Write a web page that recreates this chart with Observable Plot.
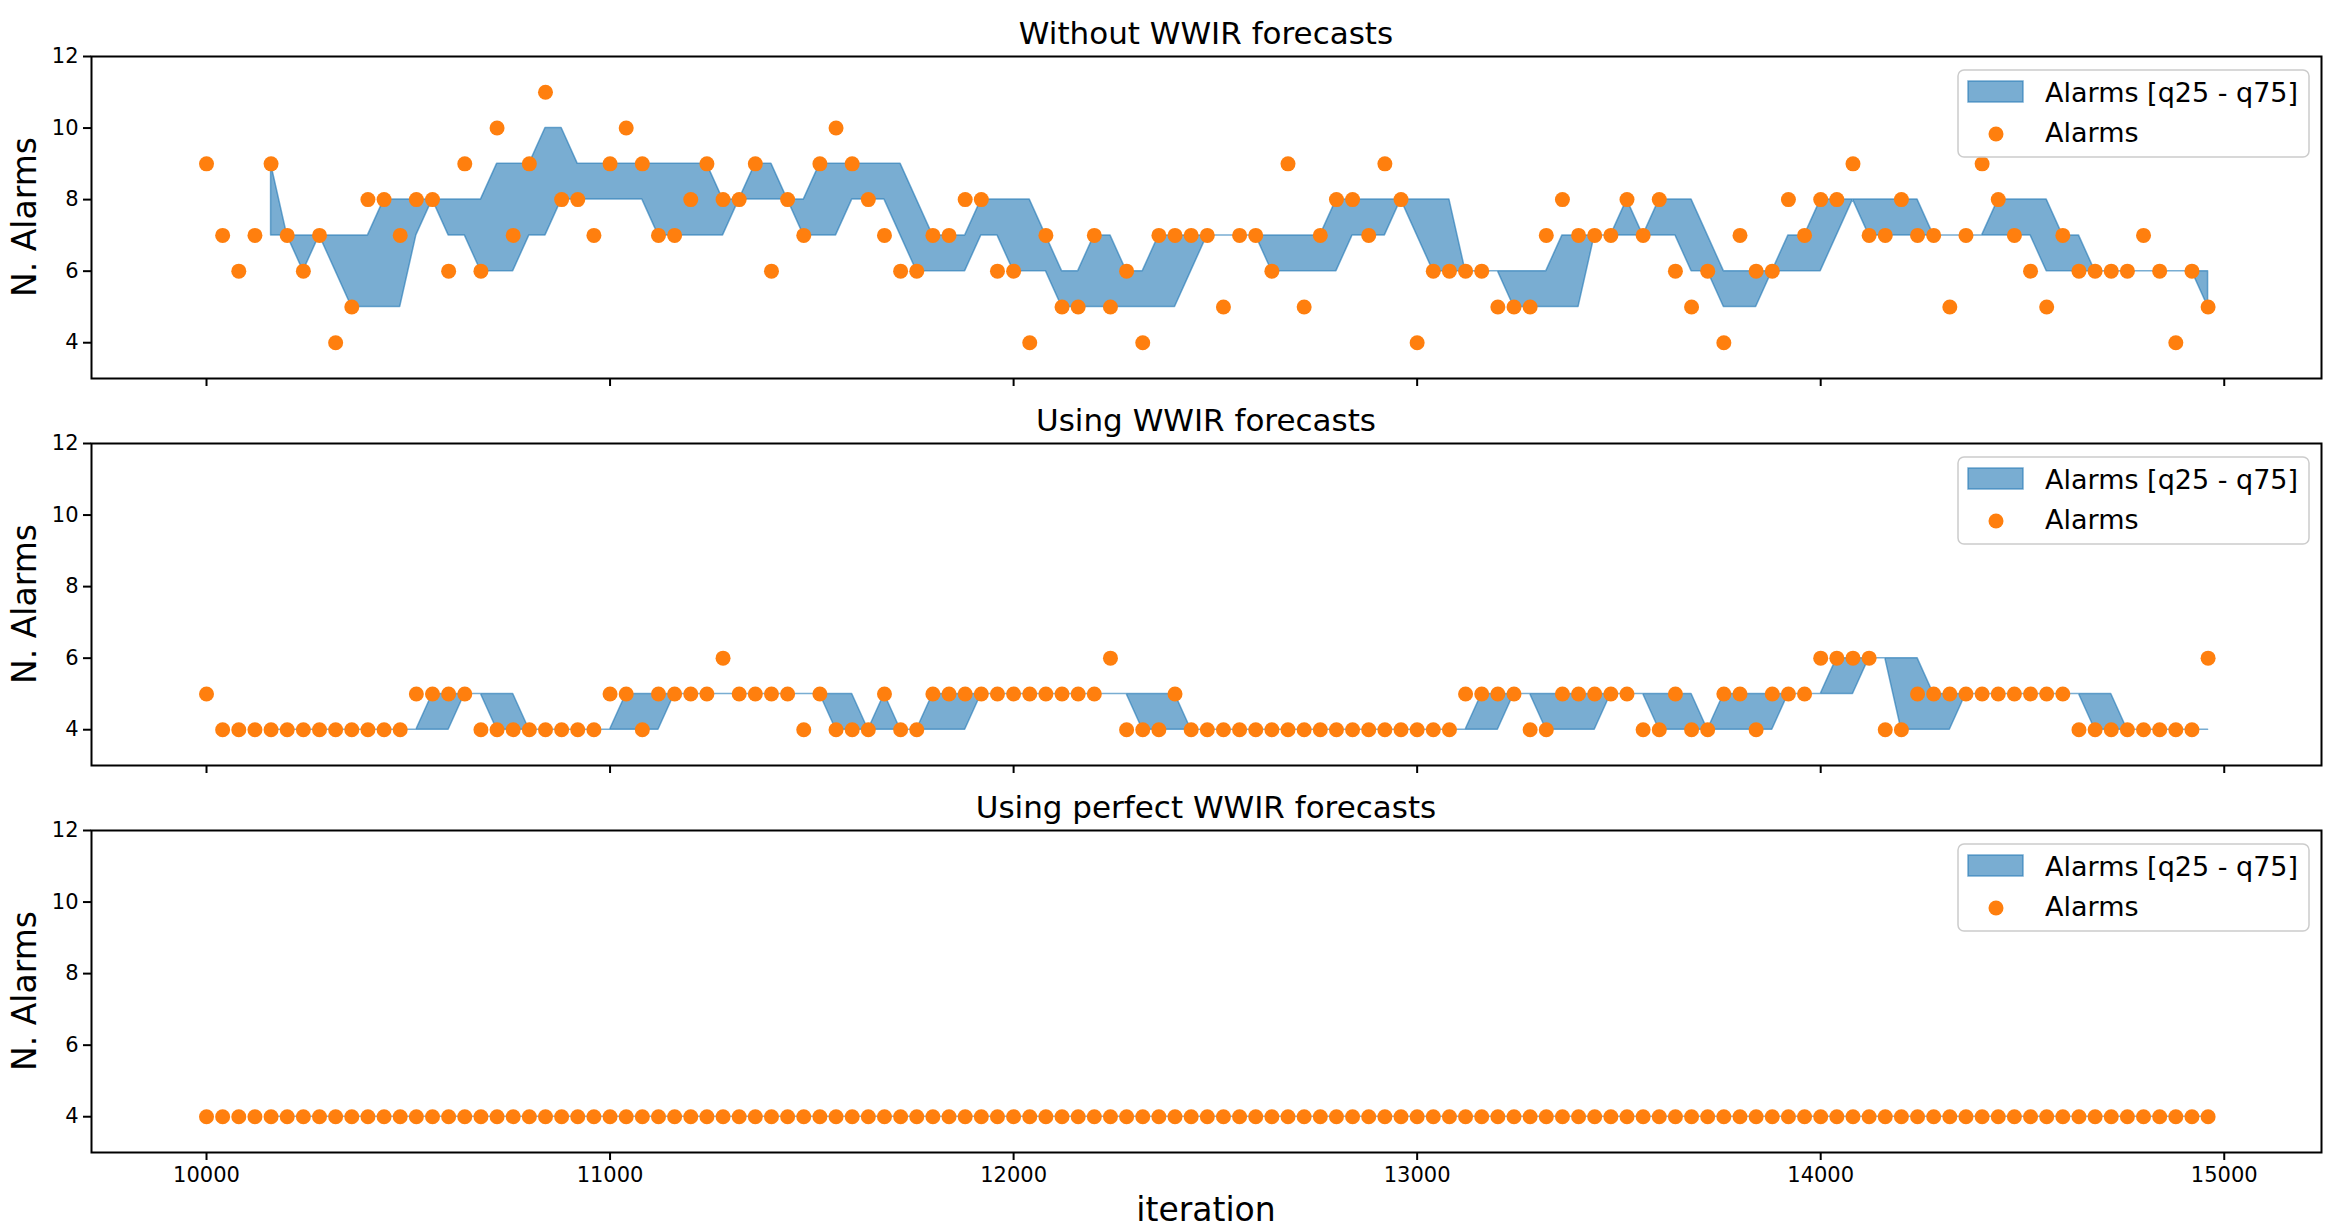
<!DOCTYPE html>
<html>
<head>
<meta charset="utf-8">
<script src="https://cdn.jsdelivr.net/npm/d3@7"></script>
<script src="https://cdn.jsdelivr.net/npm/@observablehq/plot@0.6"></script>
<style>
  html, body { margin: 0; padding: 0; background: #fff; }
  #chart { position: relative; width: 2332px; height: 1228px; font-family: "DejaVu Sans", sans-serif; }
  .panel { position: absolute; left: 0; }
  .panel svg { overflow: visible; }
  .panel svg g[aria-label^="x-axis"] path, .panel svg g[aria-label^="x-axis"] line,
  .panel svg g[aria-label^="y-axis"] path, .panel svg g[aria-label^="y-axis"] line { stroke-width: 2px; }
  .panel svg g[aria-label^="x-axis"] text, .panel svg g[aria-label^="y-axis"] text {
    font-family: "DejaVu Sans", sans-serif !important; font-size: 21px !important; fill: #000;
  }
  #overlay { position: absolute; left: 0; top: 0; pointer-events: none; }
</style>
</head>
<body>
<div id="chart"></div>
<script>
// Iterations, sampled every 40 steps
const iterations = d3.range(10000, 15000, 40);

// Number of alarms per iteration, one array per scenario
const alarmsWithout = [
  9,7,6,7,9,7,6,7,4,5,8,8,7,8,8,6,9,6,10,7,9,11,8,8,7,9,
  10,9,7,7,8,9,8,8,9,6,8,7,9,10,9,8,7,6,6,7,7,8,8,6,6,
  4,7,5,5,7,5,6,4,7,7,7,7,5,7,7,6,9,5,7,8,8,7,9,8,4,
  6,6,6,6,5,5,5,7,8,7,7,7,8,7,8,6,5,6,4,7,6,6,8,7,8,8,
  9,7,7,8,7,7,5,7,9,8,7,6,5,7,6,6,6,6,7,6,4,6,5
];
const alarmsWWIR = [
  5,4,4,4,4,4,4,4,4,4,4,4,4,5,5,5,5,4,4,4,4,4,4,4,4,5,5,4,5,5,5,5,
  6,5,5,5,5,4,5,4,4,4,5,4,4,5,5,5,5,5,5,5,5,5,5,5,6,4,4,4,5,4,4,4,4,
  4,4,4,4,4,4,4,4,4,4,4,4,4,5,5,5,5,4,4,5,5,5,5,5,4,4,5,4,4,5,5,4,
  5,5,5,6,6,6,6,4,4,5,5,5,5,5,5,5,5,5,5,4,4,4,4,4,4,4,4,6
];
const alarmsPerfect = [
  4,4,4,4,4,4,4,4,4,4,4,4,4,4,4,4,4,4,4,4,4,4,4,4,4,
  4,4,4,4,4,4,4,4,4,4,4,4,4,4,4,4,4,4,4,4,4,4,4,4,4,
  4,4,4,4,4,4,4,4,4,4,4,4,4,4,4,4,4,4,4,4,4,4,4,4,4,
  4,4,4,4,4,4,4,4,4,4,4,4,4,4,4,4,4,4,4,4,4,4,4,4,4,
  4,4,4,4,4,4,4,4,4,4,4,4,4,4,4,4,4,4,4,4,4,4,4,4,4
];

const panelTitles = ["Without WWIR forecasts", "Using WWIR forecasts", "Using perfect WWIR forecasts"];
const panelSeries = [alarmsWithout, alarmsWWIR, alarmsPerfect];
const xTicks = [10000, 11000, 12000, 13000, 14000, 15000];
const yTicks = [4, 6, 8, 10, 12];
const legendLabels = ["Alarms [q25 - q75]", "Alarms"];
const xLabel = "iteration";
const yLabel = "N. Alarms";

const BLUE = "#1f77b4", ORANGE = "#ff7f0e";
const W = 2332, H = 1228;
const frameLeft = 91, frameRight = 2321, frameH = 322;
const frameTops = [56, 443, 830];
const padTop = 10, padBottom = 46;

const chart = document.getElementById("chart");

// Rolling interquartile band over the last 5 samples
const bandWindow = (p) => Plot.window({k: 5, anchor: "end", strict: true, reduce: p});

panelSeries.forEach((values, k) => {
  const rows = iterations.map((it, i) => ({iteration: it, alarms: values[i]}));
  const last = k === panelSeries.length - 1;
  const svg = Plot.plot({
    width: W,
    height: padTop + frameH + padBottom,
    marginLeft: frameLeft,
    marginRight: W - frameRight,
    marginTop: padTop,
    marginBottom: padBottom,
    style: {fontFamily: "DejaVu Sans", fontSize: "21px", color: "#000", background: "transparent", overflow: "visible"},
    x: {domain: [9715, 15241], ticks: xTicks, tickSize: 8, tickPadding: 7,
        tickFormat: last ? (d) => String(d) : () => "", label: null},
    y: {domain: [3, 12], ticks: yTicks, tickSize: 8, tickPadding: 5, label: null},
    marks: [
      Plot.areaY(rows, Plot.map(
        {y1: bandWindow("p25"), y2: bandWindow("p75")},
        {x: "iteration", y1: "alarms", y2: "alarms",
         fill: BLUE, fillOpacity: 0.6, stroke: BLUE, strokeOpacity: 0.6, strokeWidth: 1.5}
      )),
      Plot.dot(rows, {x: "iteration", y: "alarms", r: 7.5, fill: ORANGE, stroke: null}),
      Plot.frame({stroke: "#000", strokeWidth: 2})
    ]
  });
  const div = document.createElement("div");
  div.className = "panel";
  div.style.top = (frameTops[k] - padTop) + "px";
  div.appendChild(svg);
  chart.appendChild(div);
});

// Titles, axis labels and legends
const overlay = d3.select(chart).append("svg")
  .attr("id", "overlay").attr("width", W).attr("height", H)
  .style("font-family", "'DejaVu Sans', sans-serif");

const cx = (frameLeft + frameRight) / 2;
panelTitles.forEach((title, k) => {
  const top = frameTops[k];
  overlay.append("text").attr("x", cx).attr("y", top - 12)
    .attr("text-anchor", "middle").attr("font-size", 31).text(title);
  overlay.append("text")
    .attr("transform", `translate(36,${top + frameH / 2}) rotate(-90)`)
    .attr("text-anchor", "middle").attr("font-size", 33).text(yLabel);

  const g = overlay.append("g").attr("transform", `translate(0,${top})`);
  g.append("rect").attr("x", 1958).attr("y", 14).attr("width", 351).attr("height", 87).attr("rx", 6)
    .attr("fill", "#fff").attr("fill-opacity", 0.8).attr("stroke", "#cccccc").attr("stroke-width", 1.5);
  g.append("rect").attr("x", 1968).attr("y", 25).attr("width", 55).attr("height", 21)
    .attr("fill", BLUE).attr("fill-opacity", 0.6).attr("stroke", BLUE).attr("stroke-opacity", 0.6).attr("stroke-width", 1.5);
  g.append("text").attr("x", 2045).attr("y", 46).attr("font-size", 27).text(legendLabels[0]);
  g.append("circle").attr("cx", 1996).attr("cy", 78).attr("r", 7.5).attr("fill", ORANGE);
  g.append("text").attr("x", 2045).attr("y", 86).attr("font-size", 27).text(legendLabels[1]);
});

overlay.append("text").attr("x", cx).attr("y", 1221)
  .attr("text-anchor", "middle").attr("font-size", 33).text(xLabel);
</script>
</body>
</html>
